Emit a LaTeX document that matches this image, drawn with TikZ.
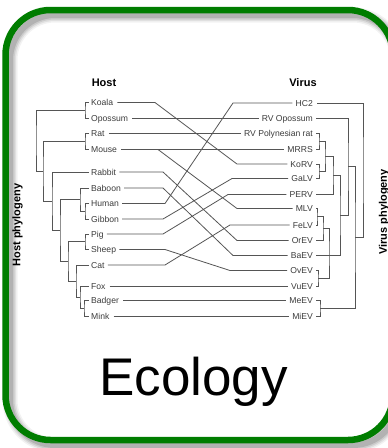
\documentclass[tikz,border=0pt]{standalone}
\usepackage{fontspec}
\setmainfont{Liberation Sans}
\definecolor{framegreen}{RGB}{0,125,0}
\definecolor{linegray}{RGB}{85,85,85}
\definecolor{labelgray}{RGB}{60,60,60}
\begin{document}
\begin{tikzpicture}[x=1pt,y=-1pt,
  tx/.style={inner sep=0pt, font=\fontsize{8.6}{9}\selectfont, text=labelgray, text height=6.2pt, text depth=0pt},
  hl/.style={anchor=west, tx},
  vl/.style={anchor=east, tx},
  ln/.style={draw=linegray, line width=0.8pt},
  ttl/.style={font=\bfseries\fontsize{11}{12}\selectfont, text=black, anchor=base, inner sep=0pt},
  side/.style={font=\bfseries\fontsize{11}{12}\selectfont, text=black, rotate=90, inner sep=0pt}]
\useasboundingbox (0,0) rectangle (388,448);
% frame
\fill[white] (0,0) rectangle (388,448);
\foreach \w/\o in {15/0.05, 12/0.07, 9/0.09, 6/0.12}
  \draw[line width=\w pt, black, opacity=\o, rounded corners=45pt] (10,15) rectangle (398,445);
\draw[line width=6.5pt, framegreen, rounded corners=45pt] (5.5,10) rectangle (393,440);
% titles
\node[ttl] (host) at (104,86) {Host};
\node[ttl] (virus) at (303,86) {Virus};
\node[side] (hostphy) at (17.5,225) {Host phylogeny};
\node[side] (virusphy) at (384,212) {Virus phylogeny};
\node[font=\fontsize{53}{60}\selectfont, anchor=base, inner sep=0pt] (eco) at (193.5,395) {Ecology};
% host labels
\node[hl] (koala) at (91,102.5) {Koala};
\node[hl] (opossum) at (91,118) {Opossum};
\node[hl] (rat) at (91,133.5) {Rat};
\node[hl] (mouse) at (91,149.5) {Mouse};
\node[hl] (rabbit) at (91,172) {Rabbit};
\node[hl] (baboon) at (91,188) {Baboon};
\node[hl] (human) at (91,203.5) {Human};
\node[hl] (gibbon) at (91,219) {Gibbon};
\node[hl] (pig) at (91,234) {Pig};
\node[hl] (sheep) at (91,249.5) {Sheep};
\node[hl] (cat) at (91,265) {Cat};
\node[hl] (fox) at (91,286) {Fox};
\node[hl] (badger) at (91,300.5) {Badger};
\node[hl] (mink) at (91,316) {Mink};
% virus labels
\node[vl] (hc2) at (313,103) {HC2};
\node[vl] (rvop) at (313,118) {RV Opossum};
\node[vl] (rvpr) at (313,133.5) {RV Polynesian rat};
\node[vl] (mrrs) at (313,149.5) {MRRS};
\node[vl] (korv) at (313,164) {KoRV};
\node[vl] (galv) at (313,178.5) {GaLV};
\node[vl] (perv) at (313,194.5) {PERV};
\node[vl] (mlv) at (313,208.5) {MLV};
\node[vl] (felv) at (313,225) {FeLV};
\node[vl] (orev) at (313,240.5) {OrEV};
\node[vl] (baev) at (313,255.5) {BaEV};
\node[vl] (ovev) at (313,270.5) {OvEV};
\node[vl] (vuev) at (313,286) {VuEV};
\node[vl] (meev) at (313,300.5) {MeEV};
\node[vl] (miev) at (313,316) {MiEV};
% host-virus associations
\coordinate (mbr) at (158,149.5);
\draw[ln] ([xshift=4pt]koala.east) -- (155,102.5) -- (237,164) -- ([xshift=-3pt]korv.west);
\draw[ln] ([xshift=4pt]opossum.east) -- ([xshift=-3pt]rvop.west);
\draw[ln] ([xshift=4pt]rat.east) -- ([xshift=-3pt]rvpr.west);
\draw[ln] ([xshift=4pt]mouse.east) -- ([xshift=-3pt]mrrs.west);
\draw[ln] (mbr) -- (237,208.5) -- ([xshift=-3pt]mlv.west);
\draw[ln] ([xshift=3pt]rabbit.east) -- (163,172) -- (237,240.5) -- ([xshift=-3pt]orev.west);
\draw[ln] ([xshift=3pt]baboon.east) -- (163,188) -- (233,255.5) -- ([xshift=-3pt]baev.west);
\draw[ln] ([xshift=3pt]human.east) -- (165,203.5) -- (233,103) -- ([xshift=-3pt]hc2.west);
\draw[ln] ([xshift=3pt]gibbon.east) -- (163,219) -- (232,178.5) -- ([xshift=-3pt]galv.west);
\draw[ln] ([xshift=3pt]pig.east) -- (163,234) -- (228,194.5) -- ([xshift=-3pt]perv.west);
\draw[ln] ([xshift=3pt]sheep.east) -- (165,249.5) -- (230,270.5) -- ([xshift=-3pt]ovev.west);
\draw[ln] ([xshift=3pt]cat.east) -- (165,265) -- (230,225) -- ([xshift=-3pt]felv.west);
\draw[ln] ([xshift=4pt]fox.east) -- ([xshift=-3pt]vuev.west);
\draw[ln] ([xshift=4pt]badger.east) -- ([xshift=-3pt]meev.west);
\draw[ln] ([xshift=4pt]mink.east) -- ([xshift=-3pt]miev.west);
% host tree
\draw[ln] ([xshift=-2pt]koala.west) -| (85,110.25) |- ([xshift=-2pt]opossum.west);
\draw[ln] ([xshift=-2pt]rat.west) -| (85,141.5) |- ([xshift=-2pt]mouse.west);
\draw[ln] ([xshift=-2pt]human.west) -| (85,211.25) |- ([xshift=-2pt]gibbon.west);
\draw[ln] ([xshift=-2pt]baboon.west) -| (80,199.6) |- (85,211.25);
\draw[ln] ([xshift=-2pt]pig.west) -| (85,241.75) |- ([xshift=-2pt]sheep.west);
\draw[ln] ([xshift=-2pt]badger.west) -| (84,308.25) |- ([xshift=-2pt]mink.west);
\draw[ln] ([xshift=-2pt]fox.west) -| (80,297.1) |- (84,308.25);
\draw[ln] ([xshift=-2pt]cat.west) -| (76,281) |- (80,297.1);
\draw[ln] (85,241.75) -| (68,261.4) |- (76,281);
\draw[ln] (80,199.6) -| (60,230.5) |- (68,261.4);
\draw[ln] ([xshift=-2pt]rabbit.west) -| (52,201.25) |- (60,230.5);
\draw[ln] (85,141.5) -| (43,171.4) |- (52,201.25);
\draw[ln] (85,110.25) -| (36,140) |- (43,171.4);
% virus tree
\draw[ln] ([xshift=3pt]rvpr.east) -| (319,141.5) |- ([xshift=3pt]mrrs.east);
\draw[ln] ([xshift=3pt]korv.east) -| (319,171.25) |- ([xshift=3pt]galv.east);
\draw[ln] (319,141.5) -| (325,156.4) |- (319,171.25);
\draw[ln] (325,156.4) -| (333,175.4) |- ([xshift=3pt]perv.east);
\draw[ln] ([xshift=3pt]mlv.east) -| (317,216.75) |- ([xshift=3pt]felv.east);
\draw[ln] (317,216.75) -| (323,228.6) |- ([xshift=3pt]orev.east);
\draw[ln] ([xshift=3pt]ovev.east) -| (318,278.25) |- ([xshift=3pt]vuev.east);
\draw[ln] (323,228.6) -| (329,253.4) |- (318,278.25);
\draw[ln] (333,175.4) -| (340,215.5) |- ([xshift=3pt]baev.east);
\draw[ln] ([xshift=3pt]rvop.east) -| (348,166.7) |- (340,215.5);
\draw[ln] ([xshift=3pt]meev.east) -| (320,308.25) |- ([xshift=3pt]miev.east);
\draw[ln] (348,166.7) -| (355,237.5) |- (320,308.25);
\draw[ln] ([xshift=4pt]hc2.east) -| (363,170) |- (355,237.5);
\end{tikzpicture}
\end{document}
